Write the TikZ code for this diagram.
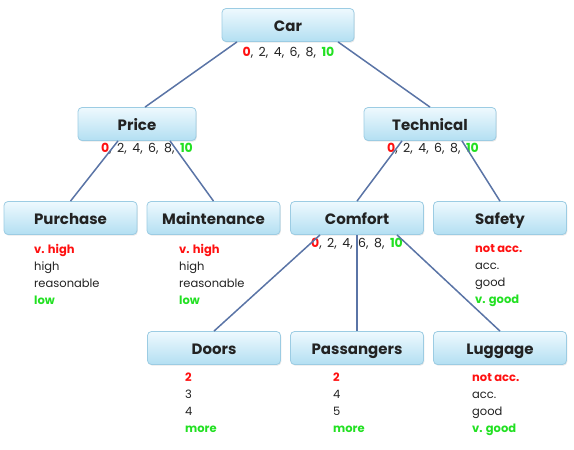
\documentclass[tikz,border=0pt]{standalone}
\usepackage{fontspec}
\setmainfont{Poppins}
\usetikzlibrary{calc,shadows}

\definecolor{boxtop}{HTML}{EEF9FE}
\definecolor{boxbot}{HTML}{B3DFF2}
\definecolor{boxline}{HTML}{9CCCE3}
\definecolor{linkcol}{HTML}{5A74A6}
\definecolor{lowcol}{HTML}{FF1010}
\definecolor{highcol}{HTML}{22E022}
\definecolor{txt}{HTML}{222222}

\newcommand{\bad}[1]{\textcolor{lowcol}{\textbf{#1}}}
\newcommand{\best}[1]{\textcolor{highcol}{\textbf{#1}}}
\newcommand{\sep}{,\hspace{5.5pt}}
\newcommand{\scalerow}{\bad{0}\sep 2\sep 4\sep 6\sep 8\sep \best{10}}

\tikzset{
  attr/.style={draw=boxline, line width=0.8pt, rounded corners=4pt,
    top color=boxtop, bottom color=boxbot,
    drop shadow={shadow xshift=0.8pt, shadow yshift=-1.2pt, opacity=0.18},
    minimum width=133pt, minimum height=33pt, inner sep=0pt,
    text height=13pt, text depth=1pt,
    font=\fontsize{15}{17}\selectfont\bfseries, text=txt},
  scalelbl/.style={font=\fontsize{12.5}{14}\selectfont, text=txt, inner sep=0pt},
  vallist/.style={anchor=north west, align=left, inner sep=0pt,
    font=\fontsize{11.5}{17}\selectfont, text=txt},
  link/.style={draw=linkcol, line width=1.5pt},
}

\begin{document}
\begin{tikzpicture}[x=1pt, y=-1pt]
\useasboundingbox (0,0) rectangle (574,450);

% attribute boxes
\node[attr, minimum width=132pt] (car)   at (288,25)  {Car};
\node[attr, minimum width=118pt] (price) at (137,124) {Price};
\node[attr, minimum width=132pt] (tech)  at (430,124) {Technical};
\node[attr] (purchase) at (70.5,218)  {Purchase};
\node[attr] (maint)    at (213.5,218) {Maintenance};
\node[attr] (comfort)  at (357,218)   {Comfort};
\node[attr] (safety)   at (500,218)   {Safety};
\node[attr] (doors)    at (214,348)   {Doors};
\node[attr] (pass)     at (357,348)   {Passangers};
\node[attr] (luggage)  at (500,348)   {Luggage};

% rating scales under the aggregated attributes
\node[scalelbl] (carscale)   at (288.5,52.5) {\scalerow};
\node[scalelbl] (pricescale) at (147,148.5)  {\scalerow};
\node[scalelbl] (techscale)  at (433,148.5)  {\scalerow};
\node[scalelbl] (comfscale)  at (357,243.5)  {\scalerow};

% value lists of the basic attributes
\node[vallist] (purchasev) at (34,244)  {\bad{v. high}\\high\\reasonable\\\best{low}};
\node[vallist] (maintv)    at (179,244) {\bad{v. high}\\high\\reasonable\\\best{low}};
\node[vallist] (safetyv)   at (475,244) {\bad{not acc.}\\acc.\\good\\\best{v. good}};
\node[vallist] (doorsv)    at (185,373) {\bad{2}\\3\\4\\\best{more}};
\node[vallist] (passv)     at (333,373) {\bad{2}\\4\\5\\\best{more}};
\node[vallist] (luggagev)  at (472,373) {\bad{not acc.}\\acc.\\good\\\best{v. good}};

% tree connectors
\draw[link] ([xshift=-51pt]car.south) -- ([xshift=8pt]price.north);
\draw[link] ([xshift=50pt]car.south) -- (tech.north);
\draw[link] ([xshift=-19pt]price.south) -- (purchase.north);
\draw[link] ([xshift=33pt]price.south) -- (maint.north);
\draw[link] ([xshift=-28pt]tech.south) -- (comfort.north);
\draw[link] ([xshift=32pt]tech.south) -- (safety.north);
\draw[link] ([xshift=-37pt]comfort.south) -- (doors.north);
\draw[link] (comfort.south) -- (pass.north);
\draw[link] ([xshift=40pt]comfort.south) -- (luggage.north);
\end{tikzpicture}
\end{document}
